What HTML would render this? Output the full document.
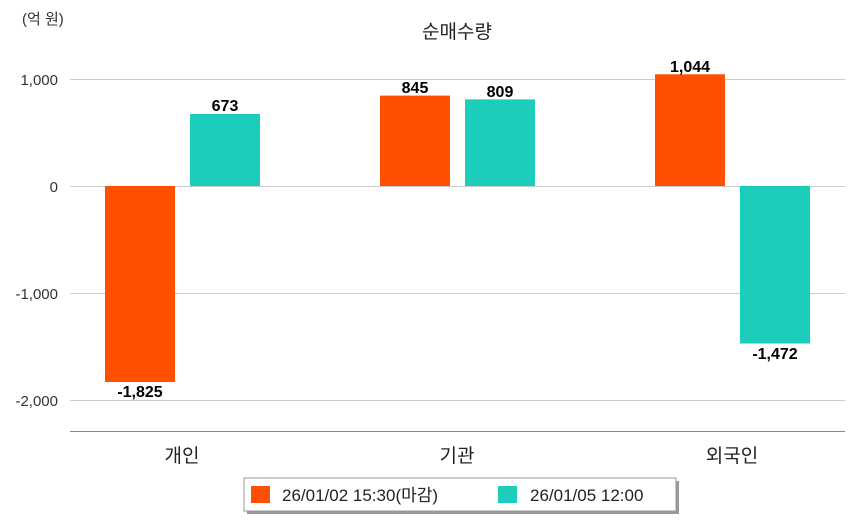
<!DOCTYPE html>
<html><head><meta charset="utf-8"><style>
body{margin:0;background:#fff;}
svg text{font-family:"Liberation Sans","Noto Sans CJK KR",sans-serif;}
</style></head><body>
<svg width="854" height="520" viewBox="0 0 854 520" xmlns="http://www.w3.org/2000/svg">
<rect width="854" height="520" fill="#fff"/>
<text x="22" y="24" font-size="15" fill="#333">(억 원)</text>
<text x="457" y="38" font-size="19" fill="#222" text-anchor="middle">순매수량</text>
<g stroke="#cccccc" stroke-width="1">
<line x1="70" x2="845" y1="79.5" y2="79.5"/>
<line x1="70" x2="845" y1="186.5" y2="186.5"/>
<line x1="70" x2="845" y1="293.5" y2="293.5"/>
<line x1="70" x2="845" y1="400.5" y2="400.5"/>
</g>
<line x1="70" x2="845" y1="431.5" y2="431.5" stroke="#888"/>
<g font-size="15" fill="#333" text-anchor="end">
<text x="58" y="85">1,000</text>
<text x="58" y="192">0</text>
<text x="58" y="299">-1,000</text>
<text x="58" y="406">-2,000</text>
</g>
<g fill="#ff5000">
<rect x="105" y="186" width="70" height="196"/>
<rect x="380" y="95.6" width="70" height="90.4"/>
<rect x="655" y="74.3" width="70" height="111.7"/>
</g>
<g fill="#1ccdbc">
<rect x="190" y="114" width="70" height="72"/>
<rect x="465" y="99.4" width="70" height="86.6"/>
<rect x="740" y="186" width="70" height="157.5"/>
</g>
<g font-size="16" fill="#000" text-anchor="middle" font-weight="bold">
<text x="140" y="397">-1,825</text>
<text x="225" y="111">673</text>
<text x="415" y="93">845</text>
<text x="500" y="97">809</text>
<text x="690" y="72">1,044</text>
<text x="775" y="359">-1,472</text>
</g>
<g font-size="19" fill="#222" text-anchor="middle">
<text x="182" y="462">개인</text>
<text x="457" y="462">기관</text>
<text x="732" y="462">외국인</text>
</g>
<rect x="247" y="481" width="432" height="33" fill="#999"/>
<rect x="244" y="478" width="432" height="33" fill="#fff" stroke="#999"/>
<rect x="251" y="486" width="19" height="17" fill="#ff5000"/>
<text x="282" y="501" font-size="17" fill="#222">26/01/02 15:30(마감)</text>
<rect x="498" y="486" width="19" height="17" fill="#1ccdbc"/>
<text x="530" y="501" font-size="17" fill="#222">26/01/05 12:00</text>
</svg>
</body></html>
